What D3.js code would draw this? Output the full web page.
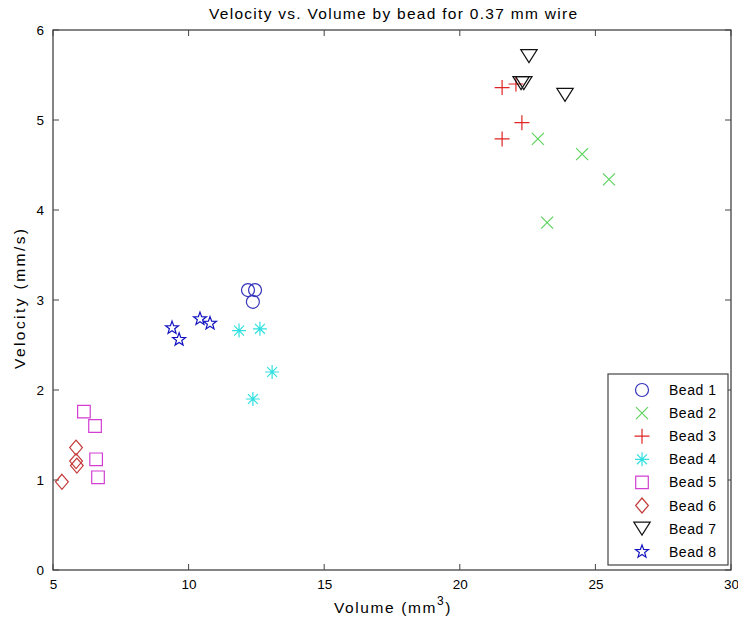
<!DOCTYPE html>
<html>
<head>
<meta charset="utf-8">
<script src="https://cdn.jsdelivr.net/npm/d3@7"></script>
<style>
  body { margin: 0; background: #fff; }
  svg { display: block; }
  text { font-family: "Liberation Sans", Arial, sans-serif; fill: #000; }
</style>
</head>
<body>
<svg id="chart" width="738" height="623"></svg>
<script>
// ---- Data ----
const beadNames = ["Bead 1","Bead 2","Bead 3","Bead 4","Bead 5","Bead 6","Bead 7","Bead 8"];
const bead1 = [[12.19,3.11],[12.45,3.11],[12.37,2.98]];
const bead2 = [[22.88,4.79],[24.51,4.62],[25.50,4.34],[23.22,3.86]];
const bead3 = [[21.56,5.36],[22.07,5.40],[22.29,4.97],[21.56,4.79]];
const bead4 = [[11.86,2.66],[12.63,2.68],[13.08,2.20],[12.37,1.90]];
const bead5 = [[6.14,1.76],[6.55,1.60],[6.59,1.23],[6.66,1.03]];
const bead6 = [[5.85,1.36],[5.85,1.21],[5.88,1.16],[5.33,0.98]];
const bead7 = [[22.55,5.71],[22.26,5.41],[22.36,5.41],[23.88,5.28]];
const bead8 = [[9.39,2.69],[9.65,2.56],[10.42,2.79],[10.79,2.74]];
const xTicks = [5,10,15,20,25,30];
const yTicks = [0,1,2,3,4,5,6];

const series = [bead1,bead2,bead3,bead4,bead5,bead6,bead7,bead8];
const colors = ["#3434bc","#5ed35e","#e02525","#30e0e0","#d23ed2","#c43a3a","#111111","#1212c0"];
const shapes = ["circle","x","plus","asterisk","square","diamond","triangleDown","star"];

const svg = d3.select("#chart");
const M = {left:53, right:731, top:30, bottom:570};
const x = d3.scaleLinear().domain([5,30]).range([M.left, M.right]);
const y = d3.scaleLinear().domain([0,6]).range([M.bottom, M.top]);

function markerPath(shape) {
  const p = d3.path();
  switch (shape) {
    case "circle": p.arc(0,0,6.5,0,2*Math.PI); break;
    case "x": { const r=6; p.moveTo(-r,-r); p.lineTo(r,r); p.moveTo(-r,r); p.lineTo(r,-r); break; }
    case "plus": { const r=7.5; p.moveTo(-r,0); p.lineTo(r,0); p.moveTo(0,-r); p.lineTo(0,r); break; }
    case "asterisk": { const r=7;
      for (let k=0;k<4;k++){ const a=k*Math.PI/4; p.moveTo(-r*Math.cos(a),-r*Math.sin(a)); p.lineTo(r*Math.cos(a),r*Math.sin(a)); }
      break; }
    case "square": { const r=6.3; p.rect(-r,-r,2*r,2*r); break; }
    case "diamond": { const r=7.5; p.moveTo(0,-r); p.lineTo(r*0.85,0); p.lineTo(0,r); p.lineTo(-r*0.85,0); p.closePath(); break; }
    case "triangleDown": { const w=8.2,h=6.5; p.moveTo(-w,-h); p.lineTo(w,-h); p.lineTo(0,h); p.closePath(); break; }
    case "star": { const R=6.8, r=2.8;
      for (let k=0;k<10;k++){ const rr = k%2===0?R:r; const a=-Math.PI/2 + k*Math.PI/5;
        const px=rr*Math.cos(a), py=rr*Math.sin(a); if(k===0) p.moveTo(px,py); else p.lineTo(px,py); }
      p.closePath(); break; }
  }
  return p.toString();
}

const g = svg.append("g");
g.append("rect").attr("x",M.left).attr("y",M.top)
  .attr("width",M.right-M.left).attr("height",M.bottom-M.top)
  .attr("fill","none").attr("stroke","#444").attr("stroke-width",1.3);

const tl = 6;
const xAxisB = d3.axisBottom(x).tickValues(xTicks).tickSize(0).tickPadding(9).tickFormat(d3.format("d"));
const gx = g.append("g").attr("transform",`translate(0,${M.bottom})`).call(xAxisB);
gx.select(".domain").remove();
gx.selectAll("text").attr("font-size",13.5).attr("font-family","Liberation Sans, Arial, sans-serif");
xTicks.forEach(t => {
  g.append("line").attr("x1",x(t)).attr("x2",x(t)).attr("y1",M.bottom).attr("y2",M.bottom-tl).attr("stroke","#444");
  g.append("line").attr("x1",x(t)).attr("x2",x(t)).attr("y1",M.top).attr("y2",M.top+tl).attr("stroke","#444");
});
const yAxisL = d3.axisLeft(y).tickValues(yTicks).tickSize(0).tickPadding(9).tickFormat(d3.format("d"));
const gy = g.append("g").attr("transform",`translate(${M.left},0)`).call(yAxisL);
gy.select(".domain").remove();
gy.selectAll("text").attr("font-size",13.5).attr("font-family","Liberation Sans, Arial, sans-serif");
yTicks.forEach(t => {
  g.append("line").attr("x1",M.left).attr("x2",M.left+tl).attr("y1",y(t)).attr("y2",y(t)).attr("stroke","#444");
  g.append("line").attr("x1",M.right).attr("x2",M.right-tl).attr("y1",y(t)).attr("y2",y(t)).attr("stroke","#444");
});

// Title and labels
svg.append("text").attr("x",393).attr("y",19).attr("text-anchor","middle")
  .attr("font-size",15.5).attr("textLength",368).attr("lengthAdjust","spacing")
  .text("Velocity vs. Volume by bead for 0.37 mm wire");
const xl = svg.append("text").attr("x",393).attr("y",613).attr("text-anchor","middle").attr("font-size",15.5)
  .attr("letter-spacing",1.6);
xl.append("tspan").text("Volume (mm");
xl.append("tspan").attr("dy",-8).attr("font-size",12).text("3");
xl.append("tspan").attr("dy",8).text(")");
svg.append("text").attr("transform","translate(25,299) rotate(-90)").attr("text-anchor","middle")
  .attr("font-size",15.5).attr("textLength",140).attr("lengthAdjust","spacing").text("Velocity (mm/s)");

series.forEach((s,i) => {
  g.append("g").selectAll("path").data(s).join("path")
    .attr("transform", d => `translate(${x(d[0])},${y(d[1])})`)
    .attr("d", markerPath(shapes[i]))
    .attr("fill","none").attr("stroke",colors[i]).attr("stroke-width",1.2);
});

const L = {x:608, y:374, w:120, h:191};
const lg = svg.append("g");
lg.append("rect").attr("x",L.x).attr("y",L.y).attr("width",L.w).attr("height",L.h)
  .attr("fill","#fff").attr("stroke","#444").attr("stroke-width",1.2);
beadNames.forEach((name,i) => {
  const cy = 390 + i*23.1;
  lg.append("path").attr("transform",`translate(642,${cy})`).attr("d",markerPath(shapes[i]))
    .attr("fill","none").attr("stroke",colors[i]).attr("stroke-width",1.2);
  lg.append("text").attr("x",669).attr("y",cy+5).attr("font-size",14).attr("textLength",47)
    .attr("lengthAdjust","spacing").text(name);
});
</script>
</body>
</html>
